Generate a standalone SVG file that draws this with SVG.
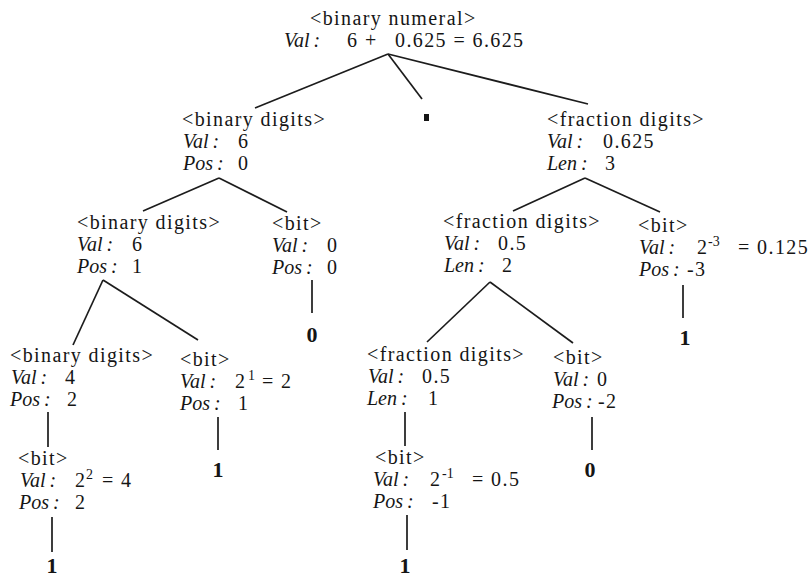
<svg xmlns="http://www.w3.org/2000/svg" width="810" height="577" viewBox="0 0 810 577">
<style>
text{font-family:"Liberation Serif","Times New Roman",serif;font-size:20px;fill:#151515}
.r{letter-spacing:1.4px}
.i{font-style:italic;word-spacing:-1px}
.s{font-size:14px}
.b{font-weight:bold;font-size:22px;text-anchor:middle}
.e line{stroke:#1c1c1c;stroke-width:1.7;stroke-linecap:butt}
</style>
<rect width="810" height="577" fill="#fff"/>
<g id="connectors" class="e">
<line x1="388" y1="54" x2="255" y2="108"/>
<line x1="388" y1="54" x2="422" y2="99"/>
<line x1="388" y1="54" x2="588" y2="104"/>
<line x1="219" y1="178" x2="143" y2="211"/>
<line x1="219" y1="178" x2="287" y2="212"/>
<line x1="585" y1="178" x2="513" y2="211"/>
<line x1="585" y1="178" x2="660" y2="212"/>
<line x1="103" y1="280" x2="73" y2="345"/>
<line x1="103" y1="280" x2="198" y2="340"/>
<line x1="312" y1="280" x2="312" y2="313"/>
<line x1="490" y1="282" x2="427" y2="342"/>
<line x1="490" y1="282" x2="573" y2="343"/>
<line x1="683" y1="285" x2="683" y2="318"/>
<line x1="48" y1="412" x2="48" y2="447"/>
<line x1="218" y1="417" x2="218" y2="450"/>
<line x1="52" y1="517" x2="52" y2="552"/>
<line x1="405" y1="412" x2="405" y2="446"/>
<line x1="592" y1="417" x2="592" y2="450"/>
<line x1="407" y1="515" x2="407" y2="550"/>
</g>
<g id="n0">
<text class="r" x="310" y="25">&lt;binary numeral&gt;</text>
<text y="47"><tspan class="i" x="284">Val :</tspan><tspan class="r" x="347">6</tspan><tspan class="r" x="365">+</tspan><tspan class="r" x="395">0.625 = 6.625</tspan></text>
</g>
<g id="point"><rect x="424" y="114" width="5" height="7" fill="#151515"/></g>
<g id="n1">
<text class="r" x="182" y="126">&lt;binary digits&gt;</text>
<text y="148"><tspan class="i" x="183">Val :</tspan><tspan class="r" x="238">6</tspan></text>
<text y="170"><tspan class="i" x="183">Pos :</tspan><tspan class="r" x="238">0</tspan></text>
</g>
<g id="n2">
<text class="r" x="547" y="126">&lt;fraction digits&gt;</text>
<text y="148"><tspan class="i" x="547">Val :</tspan><tspan class="r" x="603">0.625</tspan></text>
<text y="170"><tspan class="i" x="547">Len :</tspan><tspan class="r" x="605">3</tspan></text>
</g>
<g id="n3">
<text class="r" x="77" y="229">&lt;binary digits&gt;</text>
<text y="251"><tspan class="i" x="77">Val :</tspan><tspan class="r" x="132">6</tspan></text>
<text y="273"><tspan class="i" x="77">Pos :</tspan><tspan class="r" x="132">1</tspan></text>
</g>
<g id="n4">
<text class="r" x="272" y="230">&lt;bit&gt;</text>
<text y="252"><tspan class="i" x="272">Val :</tspan><tspan class="r" x="327">0</tspan></text>
<text y="274"><tspan class="i" x="272">Pos :</tspan><tspan class="r" x="327">0</tspan></text>
<text class="b" x="312" y="342">0</text>
</g>
<g id="n5">
<text class="r" x="443" y="228">&lt;fraction digits&gt;</text>
<text y="250"><tspan class="i" x="444">Val :</tspan><tspan class="r" x="498">0.5</tspan></text>
<text y="272"><tspan class="i" x="444">Len :</tspan><tspan class="r" x="502">2</tspan></text>
</g>
<g id="n6">
<text class="r" x="638" y="232">&lt;bit&gt;</text>
<text y="254"><tspan class="i" x="639">Val :</tspan><tspan class="r" x="697">2</tspan><tspan class="s" x="708" dy="-8">-3</tspan><tspan class="r" x="738" dy="8">= 0.125</tspan></text>
<text y="276"><tspan class="i" x="639">Pos :</tspan><tspan class="r" x="687">-3</tspan></text>
<text class="b" x="685" y="345">1</text>
</g>
<g id="n7">
<text class="r" x="10" y="362">&lt;binary digits&gt;</text>
<text y="384"><tspan class="i" x="11">Val :</tspan><tspan class="r" x="65">4</tspan></text>
<text y="406"><tspan class="i" x="10">Pos :</tspan><tspan class="r" x="67">2</tspan></text>
</g>
<g id="n8">
<text class="r" x="180" y="366">&lt;bit&gt;</text>
<text y="388"><tspan class="i" x="180">Val :</tspan><tspan class="r" x="235">2</tspan><tspan class="s" x="248" dy="-8">1</tspan><tspan class="r" x="262" dy="8">= 2</tspan></text>
<text y="410"><tspan class="i" x="180">Pos :</tspan><tspan class="r" x="238">1</tspan></text>
<text class="b" x="218" y="477">1</text>
</g>
<g id="n9">
<text class="r" x="18" y="465">&lt;bit&gt;</text>
<text y="487"><tspan class="i" x="20">Val :</tspan><tspan class="r" x="75">2</tspan><tspan class="s" x="86" dy="-8">2</tspan><tspan class="r" x="102" dy="8">= 4</tspan></text>
<text y="509"><tspan class="i" x="19">Pos :</tspan><tspan class="r" x="75">2</tspan></text>
<text class="b" x="52" y="573">1</text>
</g>
<g id="n10">
<text class="r" x="367" y="361">&lt;fraction digits&gt;</text>
<text y="383"><tspan class="i" x="368">Val :</tspan><tspan class="r" x="422">0.5</tspan></text>
<text y="405"><tspan class="i" x="367">Len :</tspan><tspan class="r" x="428">1</tspan></text>
</g>
<g id="n11">
<text class="r" x="553" y="364">&lt;bit&gt;</text>
<text y="386"><tspan class="i" x="553">Val :</tspan><tspan class="r" x="597">0</tspan></text>
<text y="408"><tspan class="i" x="552">Pos :</tspan><tspan class="r" x="598">-2</tspan></text>
<text class="b" x="590" y="477">0</text>
</g>
<g id="n12">
<text class="r" x="375" y="464">&lt;bit&gt;</text>
<text y="486"><tspan class="i" x="373">Val :</tspan><tspan class="r" x="430">2</tspan><tspan class="s" x="442" dy="-8">-1</tspan><tspan class="r" x="472" dy="8">= 0.5</tspan></text>
<text y="508"><tspan class="i" x="373">Pos :</tspan><tspan class="r" x="432">-1</tspan></text>
<text class="b" x="405" y="573">1</text>
</g>
</svg>
